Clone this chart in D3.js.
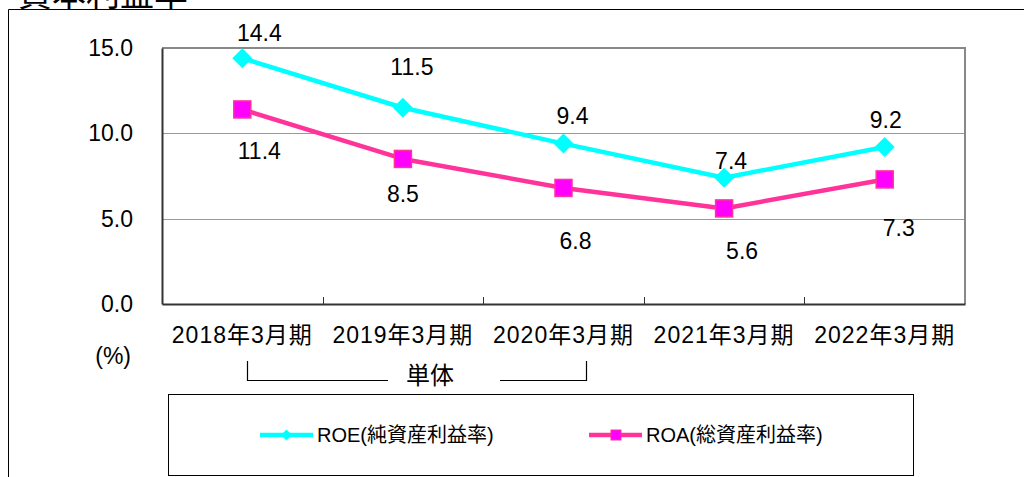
<!DOCTYPE html>
<html>
<head>
<meta charset="utf-8">
<script src="https://cdn.jsdelivr.net/npm/d3@7"></script>
<style>
  body { margin: 0; background: #fff; }
  svg { display: block; }
  text { font-family: "Liberation Sans", "Noto Sans CJK JP", sans-serif; fill: #000; }
</style>
</head>
<body>
<svg width="1024" height="477"></svg>
<script>
        // Chart data.
        const categories = ["2018年3月期", "2019年3月期", "2020年3月期", "2021年3月期", "2022年3月期"];
        const roeValues = [14.4, 11.5, 9.4, 7.4, 9.2];
        const roaValues = [11.4, 8.5, 6.8, 5.6, 7.3];
        const yTicks = [0, 5, 10, 15];
        const seriesNames = ["ROE(純資産利益率)", "ROA(総資産利益率)"];

        // Label nudges (labels were placed by hand in the original).
        const roeLabelOffset = [[17, -25], [9, -41], [9, -28], [7, -17], [1, -27]];
        const roaLabelOffset = [[17, 42], [0, 35], [12, 53], [18, 43], [14, 49]];

        const svg = d3.select("svg");
        const plot = { left: 162, right: 965, top: 48, bottom: 304 };

        const x = d3.scaleBand().domain(categories).range([plot.left, plot.right]);
        const y = d3.scaleLinear().domain([0, 15]).range([plot.bottom, plot.top]);
        const cx = d => x(d) + x.bandwidth() / 2;

        // Outer frame and clipped title.
        svg.append("path")
            .attr("d", "M8.5,480 V9.5 H1030")
            .attr("fill", "none").attr("stroke", "#000").attr("stroke-width", 1);
        svg.append("text")
            .attr("x", 18).attr("y", 6)
            .attr("font-size", 34)
            .style("font-family", "'Noto Sans CJK JP', sans-serif")
            .text("資本利益率");

        // Gridlines.
        svg.append("g")
            .selectAll("line")
            .data(yTicks.filter(t => t > 0 && t < 15))
            .enter().append("line")
            .attr("x1", plot.left).attr("x2", plot.right)
            .attr("y1", d => Math.round(y(d)) + 0.5).attr("y2", d => Math.round(y(d)) + 0.5)
            .attr("stroke", "#999");

        // Plot border: top and right in gray.
        svg.append("path")
            .attr("d", `M${plot.left},${plot.top} H${plot.right} V${plot.bottom}`)
            .attr("fill", "none").attr("stroke", "#888").attr("stroke-width", 2);

        // Y axis.
        const yAxis = d3.axisLeft(y).tickValues(yTicks).tickSize(0).tickPadding(29)
            .tickFormat(d3.format(".1f"));
        svg.append("g")
            .attr("transform", `translate(${plot.left},0)`)
            .call(yAxis)
            .call(g => g.select(".domain").attr("stroke", "#333").attr("stroke-width", 2))
            .selectAll("text")
            .attr("font-size", 23)
            .style("font-family", "'Liberation Sans', sans-serif");

        // X axis, with ticks between categories pointing up.
        svg.append("g")
            .attr("transform", `translate(0,${plot.bottom})`)
            .call(d3.axisBottom(x).tickSize(0).tickPadding(23))
            .call(g => g.select(".domain").attr("stroke", "#333").attr("stroke-width", 2))
            .selectAll("text")
            .attr("font-size", 23)
            .attr("letter-spacing", 1)
            .style("font-family", "'Liberation Sans', 'Noto Sans CJK JP', sans-serif");

        svg.append("g")
            .selectAll("line")
            .data(categories.slice(1))
            .enter().append("line")
            .attr("x1", d => Math.round(x(d)) + 0.5).attr("x2", d => Math.round(x(d)) + 0.5)
            .attr("y1", plot.bottom).attr("y2", plot.bottom - 7)
            .attr("stroke", "#333");

        // Unit label.
        svg.append("text")
            .attr("x", 131).attr("y", 364)
            .attr("text-anchor", "end")
            .attr("font-size", 23)
            .text("(%)");

        // Bracket with "単体".
        const bx0 = Math.round(cx(categories[0]) + 5) + 0.5;
        const bx1 = Math.round(cx(categories[2]) + 22) + 0.5;
        svg.append("path")
            .attr("d", `M${bx0},361 V380.5 H388 M500,380.5 H${bx1} V361`)
            .attr("fill", "none").attr("stroke", "#000").attr("stroke-width", 1.2);
        svg.append("text")
            .attr("x", 430).attr("y", 384)
            .attr("text-anchor", "middle")
            .attr("font-size", 24)
            .style("font-family", "'Noto Sans CJK JP', sans-serif")
            .text("単体");

        // Lines and markers.
        const line = d3.line().x((d, i) => cx(categories[i])).y(d => y(d));
        const roeColor = "#00FFFF", roaLine = "#FF3399", roaFill = "#FF00FF";

        svg.append("path").datum(roeValues)
            .attr("d", line).attr("fill", "none")
            .attr("stroke", roeColor).attr("stroke-width", 4.5).attr("stroke-linejoin", "round");
        svg.append("path").datum(roaValues)
            .attr("d", line).attr("fill", "none")
            .attr("stroke", roaLine).attr("stroke-width", 4.5).attr("stroke-linejoin", "round");

        const diamond = s => `M0,${-s} L${s},0 L0,${s} L${-s},0 Z`;

        svg.append("g").selectAll("path")
            .data(roeValues).enter().append("path")
            .attr("transform", (d, i) => `translate(${cx(categories[i])},${y(d)})`)
            .attr("d", diamond(10))
            .attr("fill", roeColor);

        svg.append("g").selectAll("rect")
            .data(roaValues).enter().append("rect")
            .attr("x", (d, i) => cx(categories[i]) - 8.5)
            .attr("y", d => y(d) - 8.5)
            .attr("width", 17).attr("height", 17)
            .attr("fill", roaFill).attr("stroke", roaLine).attr("stroke-width", 1.5);

        // Data labels.
        const labelGroup = svg.append("g")
            .attr("font-size", 23)
            .attr("text-anchor", "middle")
            .style("font-family", "'Liberation Sans', sans-serif");
        labelGroup.selectAll("text.roe")
            .data(roeValues).enter().append("text")
            .attr("class", "roe")
            .attr("x", (d, i) => cx(categories[i]) + roeLabelOffset[i][0])
            .attr("y", (d, i) => y(d) + roeLabelOffset[i][1] + 8)
            .text(d => d.toFixed(1));
        labelGroup.selectAll("text.roa")
            .data(roaValues).enter().append("text")
            .attr("class", "roa")
            .attr("x", (d, i) => cx(categories[i]) + roaLabelOffset[i][0])
            .attr("y", (d, i) => y(d) + roaLabelOffset[i][1] + 8)
            .text(d => d.toFixed(1));

        // Legend.
        svg.append("rect")
            .attr("x", 168.5).attr("y", 394.5)
            .attr("width", 745).attr("height", 81)
            .attr("fill", "#fff").attr("stroke", "#000").attr("stroke-width", 1);

        const legendItems = [
            { name: seriesNames[0], x: 260, color: roeColor, marker: "diamond" },
            { name: seriesNames[1], x: 589, color: roaLine, marker: "square" }
        ];
        const legendY = 435;
        const lg = svg.append("g").selectAll("g")
            .data(legendItems).enter().append("g")
            .attr("transform", d => `translate(${d.x},${legendY})`);
        lg.append("line")
            .attr("x1", 0).attr("x2", 53)
            .attr("stroke", d => d.color).attr("stroke-width", 4.5);
        lg.filter(d => d.marker === "diamond").append("path")
            .attr("transform", "translate(26.5,0)")
            .attr("d", diamond(5.5)).attr("fill", roeColor);
        lg.filter(d => d.marker === "square").append("rect")
            .attr("x", 22).attr("y", -5).attr("width", 10).attr("height", 10)
            .attr("fill", roaFill).attr("stroke", roaLine).attr("stroke-width", 1);
        lg.append("text")
            .attr("x", 57).attr("y", 7)
            .attr("font-size", 20)
            .style("font-family", "'Liberation Sans', 'Noto Sans CJK JP', sans-serif")
            .text(d => d.name);
</script>
</body>
</html>
